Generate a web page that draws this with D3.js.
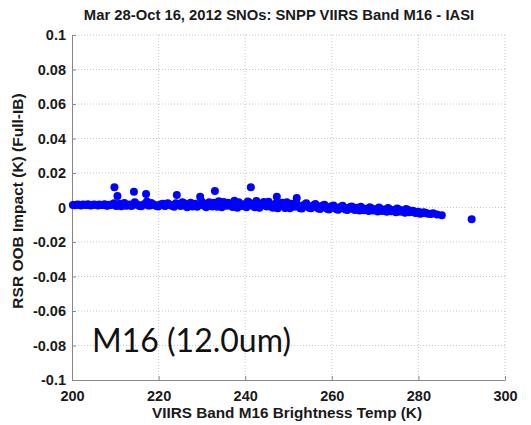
<!DOCTYPE html>
<html>
<head>
<meta charset="utf-8">
<script src="https://cdn.jsdelivr.net/npm/d3@7"></script>
<style>
  body { margin: 0; background: #fff; }
  text { font-family: "Liberation Sans", Arial, sans-serif; }
</style>
</head>
<body>
<div id="chart"></div>
<script>
// chart data
var temps = [200.2, 201, 201.8, 202.5, 203.3, 204, 204.8, 205.6, 206.3, 207.1, 207.9, 208.6, 209.4, 209.8, 210.5, 210.2,
  211, 211.8, 212.5, 213.3, 214.3, 214, 214.8, 215.6, 216.4, 217.1, 217.3, 218, 218.7, 219.5, 220.2, 221, 221.7,
  222.5, 223.2, 224.2, 224, 224.8, 225.5, 226.2, 227, 227.8, 228.5, 229.2, 229.6, 230, 230.6, 231.3, 232, 232.8,
  233, 233.5, 234.2, 235, 235.7, 236.4, 237.1, 237.8, 238.5, 239.2, 240, 240.6, 241.3, 241.5, 242.2, 242.9, 243.6,
  244.3, 245, 245.7, 246.4, 247.1, 247.3, 247.8, 248.5, 249.2, 249.9, 250.6, 251.3, 251.9, 252, 252.7, 253.4, 254.1,
  254.8, 255.5, 256.2, 256.9, 257.6, 258.3, 259, 259.7, 260.4, 261.1, 261.8, 262.5, 263.2, 263.9, 264.6, 265.3,
  266, 266.7, 267.4, 268.1, 268.8, 269.5, 270.2, 270.9, 271.6, 272.3, 273, 273.7, 274.4, 275.1, 275.8, 276.5,
  277.2, 277.9, 278.6, 279.3, 280, 280.8, 281.6, 282.5, 283.4, 285.4, 292.3];
var impacts = [0.0015, 0.0016, 0.0014, 0.0017, 0.0015, 0.0013, 0.0016, 0.0014, 0.0018, 0.0015, 0.0012, 0.0016, 0.0019, 0.0117, 0.0067, 0.0008,
  0.0022, 0.0014, 0.0010, 0.0018, 0.0092, 0.0013, 0.0021, 0.0009, 0.0016, 0.0078, 0.0035, 0.0012, 0.0019, 0.0008, 0.0015, 0.0022, 0.0011,
  0.0017, 0.0009, 0.0072, 0.0025, 0.0014, 0.0030, 0.0010, 0.0018, 0.0006, 0.0022, 0.0013, 0.0063, 0.0034, 0.0008, 0.0020, 0.0012, 0.0027,
  0.0096, 0.0005, 0.0018, 0.0032, 0.0010, 0.0022, 0.0003, 0.0015, 0.0030, 0.0008, 0.0020, 0.0035, 0.0117, 0.0012, 0.0002, 0.0025, 0.0014,
  0.0032, 0.0006, 0.0019, -0.0002, 0.0024, 0.0063, 0.0010, 0.0028, -0.0003, 0.0015, 0.0022, 0.0004, 0.0055, 0.0018, -0.0004, 0.0012, 0.0025,
  -0.0001, 0.0009, 0.0020, -0.0006, 0.0008, 0.0016, -0.0008, 0.0004, 0.0012, -0.0010, 0.0002, 0.0010, -0.0012, -0.0002, 0.0006, -0.0014,
  -0.0005, 0.0004, -0.0016, -0.0007, 0.0002, -0.0018, -0.0010, 0.0000, -0.0020, -0.0012, -0.0003, -0.0022, -0.0014, -0.0006, -0.0025, -0.0016,
  -0.0008, -0.0028, -0.0019, -0.0032, -0.0024, -0.0034, -0.0030, -0.0036, -0.0033, -0.0045, -0.0068];

// more matchups filling the dense band
var temps2 = [200.6, 201.4, 202.1, 202.9, 203.7, 204.4, 205.2, 206, 206.7, 207.5, 208.2, 209, 209.7, 210.6, 211.4, 212.1,
  212.9, 213.7, 214.5, 215.2, 216, 216.8, 217.6, 218.3, 219.1, 219.9, 220.6, 221.4, 222.1, 222.9, 223.6, 224.4,
  225.1, 225.9, 226.6, 227.4, 228.1, 228.9, 229.9, 230.3, 231, 231.7, 232.4, 233.2, 233.9, 234.6, 235.4, 236,
  236.8, 237.5, 238.2, 238.9, 239.6, 240.3, 241, 241.9, 242.6, 243.3, 244, 244.7, 245.4, 246.1, 246.8, 247.5,
  248.2, 248.9, 249.6, 250.3, 251, 251.6, 252.4, 253.1, 253.8, 254.5, 255.2, 255.9, 256.6, 257.3, 258, 258.7,
  259.4, 260.1, 260.8, 261.5, 262.2, 262.9, 263.6, 264.3, 265, 265.7, 266.4, 267.1, 267.8, 268.5, 269.2, 269.9,
  270.6, 271.3, 272, 272.7, 273.4, 274.1, 274.8, 275.5, 276.2, 276.9, 277.6, 278.3, 279, 279.7, 280.4, 281.2,
  282, 282.9, 284.3];
var impacts2 = [0.0013, 0.0018, 0.0012, 0.0016, 0.0019, 0.0011, 0.0017, 0.0012, 0.0015, 0.0019, 0.0010, 0.0014, 0.0024, 0.0012, 0.0007, 0.0026,
  0.0013, 0.0008, 0.0030, 0.0015, 0.0007, 0.0021, 0.0011, 0.0026, 0.0014, 0.0006, 0.0019, 0.0008, 0.0024, 0.0013, 0.0005, 0.0020,
  0.0008, 0.0024, 0.0002, 0.0028, 0.0012, 0.0004, 0.0024, 0.0016, 0.0001, 0.0030, 0.0006, 0.0019, 0.0036, 0.0002, 0.0015, 0.0028,
  0.0008, 0.0039, -0.0001, 0.0021, 0.0013, 0.0001, 0.0028, 0.0009, 0.0038, -0.0002, 0.0021, 0.0012, 0.0034, 0.0004, 0.0016, -0.0004,
  0.0019, 0.0008, 0.0031, -0.0005, 0.0013, 0.0024, 0.0003, -0.0006, 0.0017, 0.0006, -0.0004, 0.0014, 0.0002, -0.0009, 0.0011, 0.0000,
  -0.0011, 0.0008, -0.0003, -0.0013, 0.0005, -0.0006, -0.0015, 0.0003, -0.0009, -0.0002, -0.0018, -0.0004, -0.0012, -0.0020, -0.0006, -0.0014,
  -0.0023, -0.0008, -0.0016, -0.0025, -0.0010, -0.0019, -0.0028, -0.0012, -0.0021, -0.0030, -0.0015, -0.0025, -0.0022, -0.0029, -0.0036, -0.0027,
  -0.0035, -0.0038, -0.0040];

var xTicks = [200, 220, 240, 260, 280, 300];
var yTicks = [-0.1, -0.08, -0.06, -0.04, -0.02, 0, 0.02, 0.04, 0.06, 0.08, 0.1];

var w = 531, h = 425;
var pLeft = 72, pRight = 505, pTop = 35, pBottom = 380;

var svg = d3.select("#chart").append("svg")
    .attr("width", w)
    .attr("height", h);

var x = d3.scaleLinear().domain([200, 300]).range([pLeft, pRight]);
var y = d3.scaleLinear().domain([-0.1, 0.1]).range([pBottom, pTop]);

// grid
svg.append("g").selectAll("line").data(xTicks.slice(1)).enter().append("line")
   .attr("x1", function(d) { return x(d); }).attr("x2", function(d) { return x(d); })
   .attr("y1", pTop).attr("y2", pBottom)
   .attr("stroke", "#c8c8c8").attr("stroke-dasharray", "1,2");
svg.append("g").selectAll("line").data(yTicks.slice(1)).enter().append("line")
   .attr("y1", function(d) { return y(d); }).attr("y2", function(d) { return y(d); })
   .attr("x1", pLeft).attr("x2", pRight)
   .attr("stroke", "#c8c8c8").attr("stroke-dasharray", "1,2");

// axes
var xAxis = svg.append("g")
    .attr("transform", "translate(0," + pBottom + ")")
    .call(d3.axisBottom(x).tickValues(xTicks).tickSizeInner(-4).tickSizeOuter(0).tickPadding(7).tickFormat(d3.format("d")));
var yAxis = svg.append("g")
    .attr("transform", "translate(" + pLeft + ",0)")
    .call(d3.axisLeft(y).tickValues(yTicks).tickSizeInner(-4).tickSizeOuter(0).tickPadding(6)
      .tickFormat(function(d) { return d === 0 ? "0" : String(+d.toFixed(2)); }));

[xAxis, yAxis].forEach(function(a) {
  a.select(".domain").attr("stroke", "#888");
  a.selectAll(".tick line").attr("stroke", "#888");
  a.selectAll(".tick text").attr("fill", "#1a1a1a").style("font-size", "14.5px").style("font-weight", "bold")
   .style("font-family", "'Liberation Sans', Arial, sans-serif");
});
xAxis.selectAll(".tick text").attr("dy", "0.95em");
xAxis.select(".tick:first-child line").remove();

// points
var pts = temps.map(function(t, i) { return [t, impacts[i]]; })
  .concat(temps2.map(function(t, i) { return [t, impacts2[i]]; }));
svg.append("g").selectAll("circle").data(pts).enter().append("circle")
   .attr("cx", function(d) { return x(d[0]); })
   .attr("cy", function(d) { return y(d[1]); })
   .attr("r", 4)
   .attr("fill", "#0000ff");

// titles
svg.append("text").attr("x", 279).attr("y", 20).attr("text-anchor", "middle")
   .style("font-size", "14.8px").style("font-weight", "bold").attr("fill", "#1a1a1a")
   .text("Mar 28-Oct 16, 2012 SNOs: SNPP VIIRS Band M16 - IASI");
svg.append("text").attr("x", 287).attr("y", 418).attr("text-anchor", "middle")
   .style("font-size", "15.3px").style("font-weight", "bold").attr("fill", "#1a1a1a")
   .text("VIIRS Band M16 Brightness Temp (K)");
svg.append("text").attr("transform", "translate(23,201) rotate(-90)").attr("text-anchor", "middle")
   .style("font-size", "15.5px").style("font-weight", "bold").attr("fill", "#1a1a1a")
   .text("RSR OOB Impact (K) (Full-IB)");

// band label
svg.append("text").attr("x", 92).attr("y", 352)
   .style("font-family", "Lato, 'Open Sans', sans-serif").style("font-size", "32px").attr("fill", "#111")
   .text("M16 (12.0um)");
</script>
</body>
</html>
